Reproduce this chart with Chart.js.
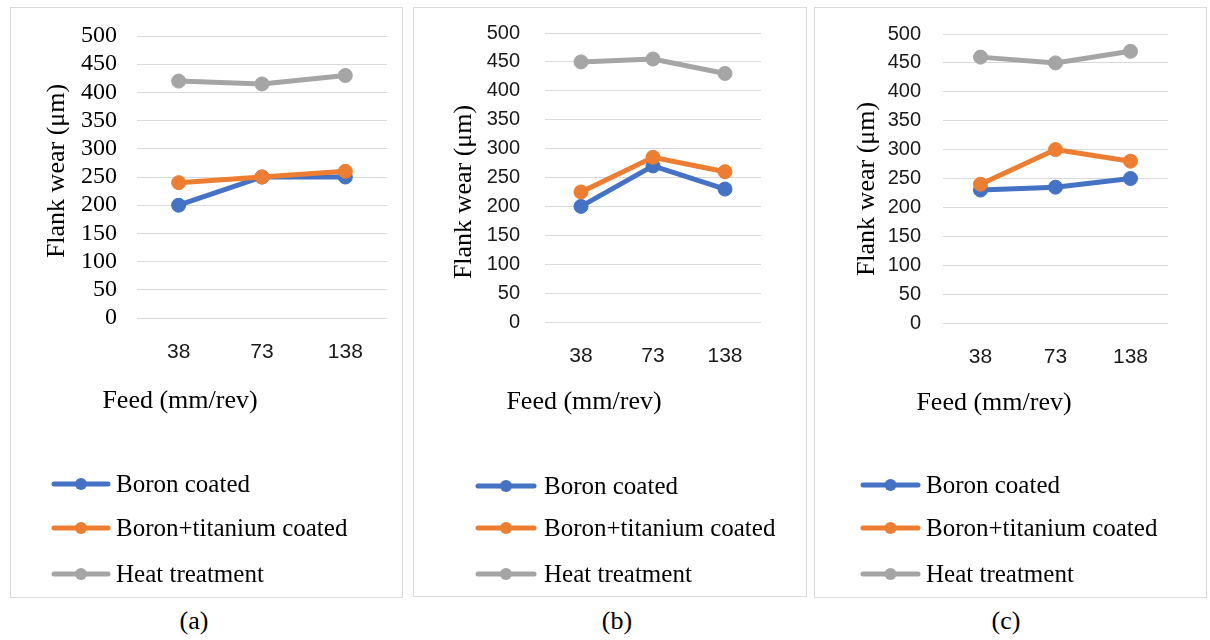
<!DOCTYPE html>
<html>
<head>
<meta charset="utf-8">
<script src="https://cdn.jsdelivr.net/npm/chart.js@4.4.1/dist/chart.umd.min.js"></script>
<style>
  html, body { margin: 0; padding: 0; background: #fff; }
  body { width: 1210px; height: 640px; position: relative; overflow: hidden; }
  canvas { position: absolute; }
  .cap { position: absolute; font-family: "Liberation Serif", "Times New Roman", serif; font-size: 26px; color: #000; transform: translate(-50%, -50%); white-space: nowrap; }
</style>
</head>
<body>
<canvas id="chartA" width="393" height="591" style="left:10px;top:7px"></canvas>
<canvas id="chartB" width="394" height="590" style="left:413px;top:7px"></canvas>
<canvas id="chartC" width="393" height="591" style="left:814px;top:7px"></canvas>
<div class="cap" style="left:194px;top:621px">(a)</div>
<div class="cap" style="left:617px;top:621px">(b)</div>
<div class="cap" style="left:1006px;top:621px">(c)</div>
<script>
// Feed values on the x axis
const categories = ['38', '73', '138'];
const seriesNames = ['Boron coated', 'Boron+titanium coated', 'Heat treatment'];
const yTickValues = [0, 50, 100, 150, 200, 250, 300, 350, 400, 450, 500];

// Flank wear (µm), panel (a)
const boronA   = [200, 250, 250];
const boronTiA = [240, 250, 260];
const heatA    = [420, 415, 430];
// panel (b)
const boronB   = [200, 270, 230];
const boronTiB = [225, 285, 260];
const heatB    = [450, 455, 430];
// panel (c)
const boronC   = [230, 235, 250];
const boronTiC = [240, 300, 280];
const heatC    = [460, 450, 470];

const colors = ['#4472C4', '#ED7D31', '#A5A5A5'];
const SERIF = '"Liberation Serif", "Times New Roman", serif';
const SANS = '"Liberation Sans", Arial, sans-serif';

// Frame, axis titles and the stacked legend under each plot
const panelDecor = {
  id: 'panelDecor',
  beforeDraw(chart, args, opts) {
    const c = chart.ctx;
    c.save();
    c.fillStyle = '#fff';
    c.fillRect(0, 0, chart.width, chart.height);
    c.strokeStyle = '#D9D9D9';
    c.lineWidth = 1;
    c.strokeRect(0.5, 0.5, chart.width - 1, chart.height - 1);
    c.restore();
  },
  afterDraw(chart, args, opts) {
    const c = chart.ctx;
    c.save();
    c.fillStyle = '#000';
    c.font = '26px ' + SERIF;
    c.textAlign = 'center';
    c.textBaseline = 'middle';
    // y title
    c.save();
    c.translate(opts.yTitle[0], opts.yTitle[1]);
    c.rotate(-Math.PI / 2);
    c.fillText('Flank wear (μm)', 0, 0);
    c.restore();
    // x title
    c.fillText('Feed (mm/rev)', opts.xTitle[0], opts.xTitle[1]);
    // legend
    const lg = opts.legend;
    c.font = '25px ' + SERIF;
    c.textAlign = 'left';
    chart.data.datasets.forEach((ds, i) => {
      const y = lg.rows[i];
      c.strokeStyle = ds.borderColor;
      c.lineWidth = 5;
      c.lineCap = 'round';
      c.beginPath();
      c.moveTo(lg.x0, y);
      c.lineTo(lg.x1, y);
      c.stroke();
      c.fillStyle = ds.borderColor;
      c.beginPath();
      c.arc((lg.x0 + lg.x1) / 2, y, 6, 0, Math.PI * 2);
      c.fill();
      c.fillStyle = '#000';
      c.fillText(ds.label, lg.tx, y + 1);
    });
    c.restore();
  }
};

function makeChart(id, values, cfg) {
  const canvas = document.getElementById(id);
  const W = canvas.width, H = canvas.height;
  const a = cfg.area;
  return new Chart(canvas, {
    type: 'line',
    data: {
      labels: categories,
      datasets: values.map((v, i) => ({
        label: seriesNames[i],
        data: v,
        borderColor: colors[i],
        backgroundColor: colors[i],
        pointBackgroundColor: colors[i],
        pointBorderColor: colors[i],
        borderWidth: 5,
        pointRadius: 7,
        pointBorderWidth: 1,
        tension: 0,
        order: 3 - i
      }))
    },
    options: {
      responsive: false,
      animation: false,
      events: [],
      layout: { padding: { left: 0, right: W - a.r, top: a.t, bottom: 0 } },
      plugins: {
        legend: { display: false },
        tooltip: { enabled: false },
        panelDecor: cfg.decor
      },
      scales: {
        x: {
          type: 'category',
          offset: true,
          grid: { display: false, drawTicks: false },
          border: { display: false },
          ticks: { font: { family: SANS, size: 21 }, color: '#1a1a1a', padding: cfg.xPad, maxRotation: 0 },
          afterFit(s) { s.height = H - a.b; s.paddingLeft = 0; s.paddingRight = 0; }
        },
        y: {
          min: 0, max: 500,
          afterBuildTicks(s) { s.ticks = yTickValues.map(v => ({ value: v })); },
          grid: { color: '#D9D9D9', lineWidth: 1, drawTicks: false },
          border: { display: false },
          ticks: { font: cfg.yFont, color: cfg.yColor, padding: cfg.yPad, autoSkip: false },
          afterFit(s) { s.width = a.l; s.paddingTop = 0; s.paddingBottom = 0; }
        }
      }
    },
    plugins: [panelDecor]
  });
}

makeChart('chartA', [boronA, boronTiA, heatA], {
  area: { l: 127, r: 377, t: 29, b: 311 },
  yFont: { family: SERIF, size: 24 }, yColor: '#000', yPad: 20, xPad: 22,
  decor: { yTitle: [47, 164], xTitle: [170, 394], legend: { x0: 44, x1: 98, tx: 106, rows: [477, 521, 567] } }
});
makeChart('chartB', [boronB, boronTiB, heatB], {
  area: { l: 132, r: 348, t: 26, b: 315 },
  yFont: { family: SANS, size: 20 }, yColor: '#1a1a1a', yPad: 25, xPad: 22,
  decor: { yTitle: [51, 185], xTitle: [171, 395], legend: { x0: 65, x1: 121, tx: 131, rows: [479, 521, 567] } }
});
makeChart('chartC', [boronC, boronTiC, heatC], {
  area: { l: 129, r: 354, t: 27, b: 316 },
  yFont: { family: SANS, size: 20 }, yColor: '#1a1a1a', yPad: 22, xPad: 22,
  decor: { yTitle: [53, 182], xTitle: [180, 396], legend: { x0: 49, x1: 104, tx: 112, rows: [478, 521, 567] } }
});
</script>
</body>
</html>
